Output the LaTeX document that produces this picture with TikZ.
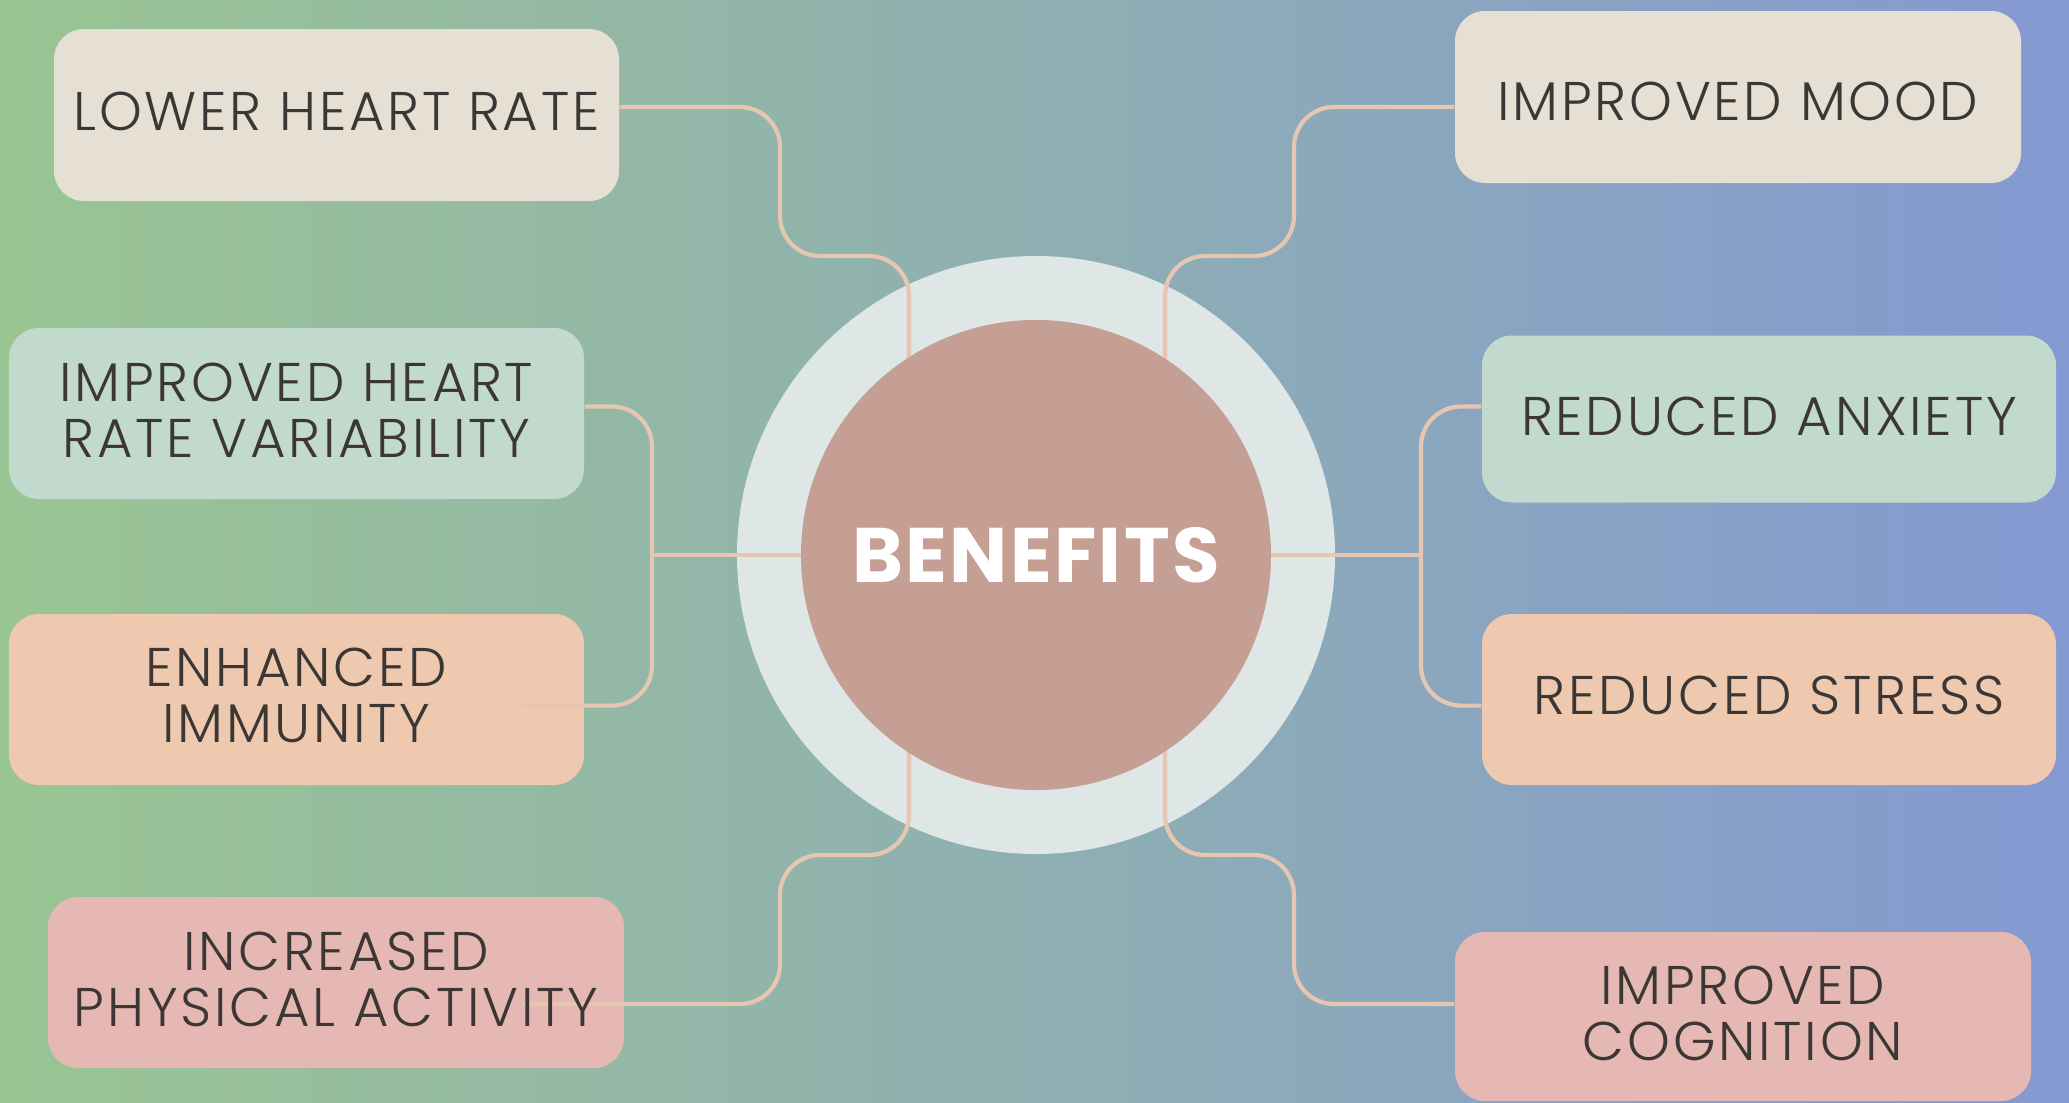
\documentclass[tikz,border=0pt]{standalone}
\usepackage{fontspec}
\setmainfont{Poppins}
\newfontfamily\itemfont{Poppins Light}[LetterSpace=5]
\newfontfamily\hubfont{Poppins}[LetterSpace=3]

\definecolor{bgleft}{HTML}{99C592}
\definecolor{bgright}{HTML}{8499D2}
\definecolor{ring}{HTML}{DEE6E6}
\definecolor{clay}{HTML}{C59F94}
\definecolor{sand}{HTML}{E5DFD4}
\definecolor{mint}{HTML}{C2D9CD}
\definecolor{peach}{HTML}{EEC8AF}
\definecolor{rose}{HTML}{E6B8B3}
\definecolor{linkcol}{HTML}{E5C6B1}
\definecolor{ink}{HTML}{3C3734}

\begin{document}
\begin{tikzpicture}[
    item/.style={rectangle, rounded corners=0.3cm, minimum width=5.75cm, minimum height=1.71cm, inner sep=0pt},
    caption/.style={align=center, inner sep=0pt, text=ink, font=\itemfont\fontsize{15.5}{15.9}\selectfont},
    link/.style={draw=linkcol, line width=1.2pt, rounded corners=0.4cm}
  ]
  % Background and frame
  \shade[left color=bgleft, right color=bgright] (0,0) rectangle (20.69,-11.02);
  \useasboundingbox (0,0) rectangle (20.69,-11.02);

  % Rows where the links leave the boxes
  \def\rowA{-1.07}
  \def\rowB{-4.065}
  \def\rowC{-7.056}
  \def\rowD{-10.04}

  % Outer ring of the hub
  \coordinate (hub) at (10.36,-5.55);
  \fill[ring] (hub) circle (2.99);

  % Boxes on the left
  \node[item, fill=sand, minimum width=5.65cm, minimum height=1.72cm] (heartrate) at (3.365,-1.15) {};
  \node[item, fill=mint] (hrv) at (2.965,-4.135) {};
  \node[item, fill=peach] (immunity) at (2.965,-6.995) {};
  \node[item, fill=rose, minimum width=5.76cm] (activity) at (3.36,-9.825) {};

  % Boxes on the right
  \node[item, fill=sand, minimum width=5.66cm, minimum height=1.72cm] (mood) at (17.38,-0.97) {};
  \node[item, fill=mint, minimum width=5.74cm, minimum height=1.67cm] (anxiety) at (17.69,-4.19) {};
  \node[item, fill=peach, minimum width=5.74cm] (stress) at (17.69,-6.995) {};
  \node[item, fill=rose, minimum width=5.76cm, minimum height=1.69cm] (cognition) at (17.43,-10.165) {};

  % Links, left side
  \draw[link] (heartrate.east |- 0,\rowA) -- (7.80,\rowA) -- (7.80,-2.56) -- (9.09,-2.56) -- (hub -| 9.09,0);
  \draw[link] (hrv.east |- 0,\rowB) -- (6.52,\rowB) -- (6.52,\rowC) -- (5.23,\rowC);
  \draw[link] (hub -| 6.52,0) -- (hub);
  \draw[link] (5.23,\rowD) -- (7.80,\rowD) -- (7.80,-8.55) -- (9.09,-8.55) -- (hub -| 9.09,0);

  % Links, right side
  \draw[link] (mood.west |- 0,\rowA) -- (12.94,\rowA) -- (12.94,-2.56) -- (11.65,-2.56) -- (hub -| 11.65,0);
  \draw[link] (anxiety.west |- 0,\rowB) -- (14.21,\rowB) -- (14.21,\rowC) -- (stress.west |- 0,\rowC);
  \draw[link] (hub -| 14.21,0) -- (hub);
  \draw[link] (cognition.west |- 0,\rowD) -- (12.94,\rowD) -- (12.94,-8.55) -- (11.65,-8.55) -- (hub -| 11.65,0);

  % Box texts, on top of the links
  \node[caption] (heartrate-text) at ([yshift=0.04cm]heartrate) {LOWER HEART RATE};
  \node[caption] (hrv-text) at ([yshift=0.03cm]hrv) {IMPROVED HEART\\RATE VARIABILITY};
  \node[caption] (immunity-text) at ([yshift=0.04cm]immunity) {ENHANCED\\IMMUNITY};
  \node[caption] (activity-text) at ([yshift=0.035cm]activity) {INCREASED\\PHYSICAL ACTIVITY};
  \node[caption] (mood-text) at ([yshift=-0.045cm]mood) {IMPROVED MOOD};
  \node[caption] (anxiety-text) at ([yshift=0.03cm]anxiety) {REDUCED ANXIETY};
  \node[caption] (stress-text) at ([yshift=0.04cm]stress) {REDUCED STRESS};
  \node[caption] (cognition-text) at ([yshift=0.03cm]cognition) {IMPROVED\\COGNITION};

  % Inner disc with the title
  \node[circle, fill=clay, minimum size=4.70cm, inner sep=0pt, text=white,
    font=\hubfont\bfseries\fontsize{22}{22}\selectfont] (benefits) at (hub) {BENEFITS};
\end{tikzpicture}
\end{document}
